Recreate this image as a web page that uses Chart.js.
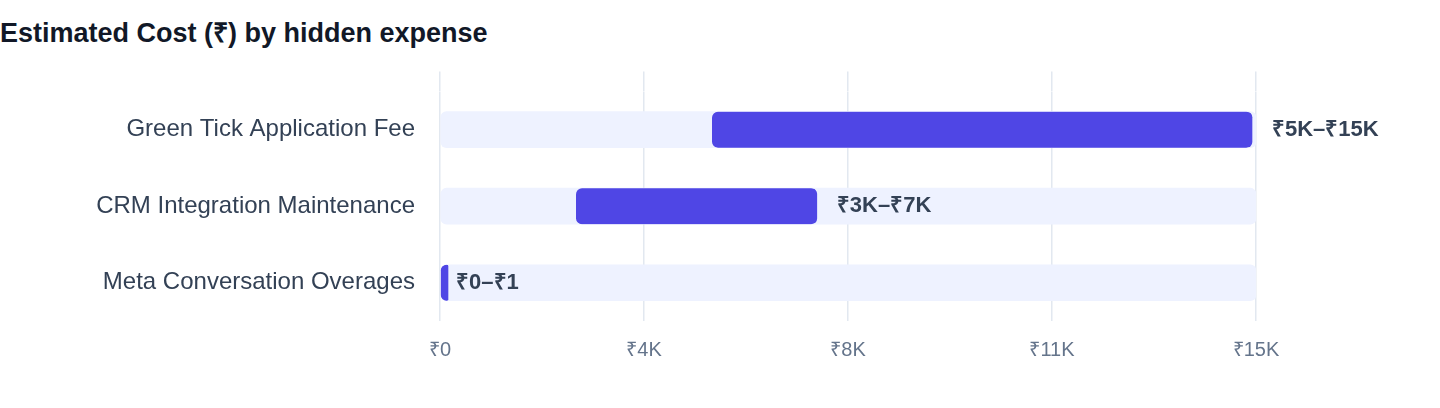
<!DOCTYPE html>
<html>
<head>
<meta charset="utf-8">
<script src="https://cdn.jsdelivr.net/npm/chart.js@4.4.1/dist/chart.umd.min.js"></script>
<style>
    html, body { margin: 0; padding: 0; background: #ffffff; }
    body { width: 1440px; height: 408px; position: relative; overflow: hidden; font-family: "Liberation Sans", Arial, sans-serif; }
    #title { position: absolute; left: 0; top: 13px; font-size: 27px; font-weight: bold; color: #111827; white-space: nowrap; }
    #wrap { position: absolute; left: 0; top: 60px; width: 1440px; height: 348px; }
</style>
</head>
<body>
<div id="title">Estimated Cost (₹) by hidden expense</div>
<div id="wrap"><canvas id="costChart"></canvas></div>
<script>
// Categories and cost ranges (₹)
const categories = ["Green Tick Application Fee", "CRM Integration Maintenance", "Meta Conversation Overages"];
const costLow = [5000, 2500, 0];
const costHigh = [15000, 7000, 1];
const rangeLabels = ["₹5K–₹15K", "₹3K–₹7K", "₹0–₹1"];
const axisMax = 15000;
const axisStep = 3750;

const barColor = "#4F46E5";
const trackColor = "#EEF2FF";
const gridColor = "#E2E8F0";

function formatRupee(value) {
    if (value === 0) return "₹0";
    return "₹" + Math.round(value / 1000) + "K";
}

// Draws the range text just past the end of each bar
const rangeLabelPlugin = {
    id: "rangeLabels",
    afterDatasetsDraw(chart) {
        const ctx = chart.ctx;
        const xScale = chart.scales.x;
        const meta = chart.getDatasetMeta(0);
        ctx.save();
        ctx.font = "bold 22px 'Liberation Sans', Arial, sans-serif";
        ctx.fillStyle = "#334155";
        ctx.textAlign = "left";
        ctx.textBaseline = "middle";
        meta.data.forEach((bar, i) => {
            ctx.fillText(rangeLabels[i], xScale.getPixelForValue(costHigh[i]) + 16, bar.y);
        });
        ctx.restore();
    }
};

document.addEventListener("DOMContentLoaded", function() {
    const ctx = document.getElementById("costChart").getContext("2d");
    new Chart(ctx, {
        type: "bar",
        data: {
            labels: categories,
            datasets: [
                {
                    label: "Estimated Cost",
                    data: categories.map((_, i) => [costLow[i], costHigh[i]]),
                    backgroundColor: barColor,
                    borderColor: trackColor,
                    borderWidth: { top: 0, right: 4, bottom: 0, left: 0 },
                    borderSkipped: false,
                    borderRadius: { topLeft: 6, bottomLeft: 6, topRight: 10, bottomRight: 10 },
                    barThickness: 36,
                    minBarLength: 12,
                    order: 1
                },
                {
                    label: "Track",
                    data: categories.map(() => [0, axisMax]),
                    backgroundColor: trackColor,
                    borderSkipped: false,
                    borderRadius: 6,
                    barThickness: 36,
                    order: 2
                }
            ]
        },
        options: {
            indexAxis: "y",
            responsive: true,
            maintainAspectRatio: false,
            animation: false,
            layout: { padding: { top: 5, right: 184, bottom: 29, left: 0 } },
            datasets: { bar: { grouped: false } },
            plugins: {
                legend: { display: false },
                tooltip: { enabled: false }
            },
            scales: {
                x: {
                    min: 0,
                    max: axisMax,
                    border: { display: false },
                    grid: { color: gridColor, lineWidth: 1.5, drawTicks: false },
                    ticks: {
                        stepSize: axisStep,
                        padding: 17,
                        color: "#64748B",
                        font: { family: "'Liberation Sans', Arial, sans-serif", size: 20 },
                        callback: value => formatRupee(value)
                    }
                },
                xTop: {
                    position: "top",
                    axis: "x",
                    min: 0,
                    max: axisMax,
                    border: { display: false },
                    grid: { color: gridColor, lineWidth: 1.5, drawOnChartArea: false, drawTicks: true, tickLength: 20 },
                    ticks: { stepSize: axisStep, display: false }
                },
                y: {
                    border: { display: false },
                    grid: { display: false },
                    afterFit: scale => { scale.width = 440; },
                    ticks: {
                        padding: 17,
                        color: "#334155",
                        font: { family: "'Liberation Sans', Arial, sans-serif", size: 24 }
                    }
                }
            }
        },
        plugins: [rangeLabelPlugin]
    });
});
</script>
</body>
</html>
